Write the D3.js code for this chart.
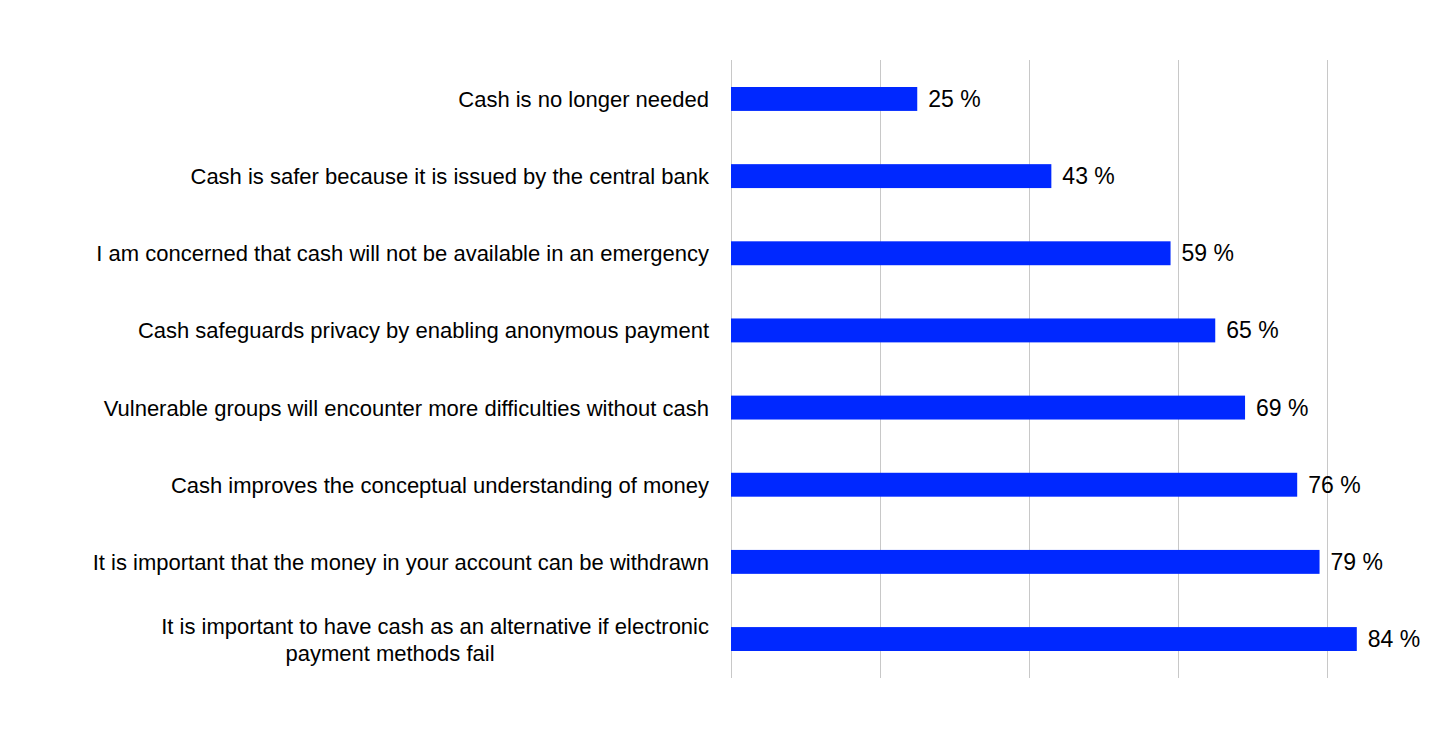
<!DOCTYPE html>
<html><head><meta charset="utf-8">
<script src="https://cdn.jsdelivr.net/npm/d3@7"></script>
<style>body{margin:0;background:#fff}svg text{font-family:"Liberation Sans",Arial,sans-serif}</style>
</head><body><svg id="c" width="1445" height="737"></svg>
<script>
// statements, top to bottom
var categories = [
  ["Cash is no longer needed"],
  ["Cash is safer because it is issued by the central bank"],
  ["I am concerned that cash will not be available in an emergency"],
  ["Cash safeguards privacy by enabling anonymous payment"],
  ["Vulnerable groups will encounter more difficulties without cash"],
  ["Cash improves the conceptual understanding of money"],
  ["It is important that the money in your account can be withdrawn"],
  ["It is important to have cash as an alternative if electronic", "payment methods fail"]
];
var values = [25, 43, 59, 65, 69, 76, 79, 84];
var ticks = [0, 20, 40, 60, 80];

var svg = d3.select("#c");
var x = d3.scaleLinear().domain([0, 100]).range([731, 1476]);
var y = d3.scaleBand().domain(d3.range(values.length)).range([60, 678]).paddingInner(0.69).paddingOuter(0.35);

svg.selectAll(".grid").data(ticks).enter().append("line")
  .attr("x1", function(d) { return x(d) + 0.5; }).attr("x2", function(d) { return x(d) + 0.5; })
  .attr("y1", 60).attr("y2", 678)
  .attr("stroke", "#c8c8c8").attr("stroke-width", 1);

svg.selectAll(".bar").data(values).enter().append("rect")
  .attr("x", x(0)).attr("y", function(d, i) { return y(i); })
  .attr("width", function(d) { return x(d) - x(0); })
  .attr("height", y.bandwidth())
  .attr("fill", "#0028ff");

svg.selectAll(".val").data(values).enter().append("text")
  .attr("x", function(d) { return x(d) + 11; })
  .attr("y", function(d, i) { return y(i) + y.bandwidth() / 2 + 8; })
  .attr("font-size", 23).attr("fill", "#000")
  .text(function(d) { return d + " %"; });

var lab = svg.selectAll(".lab").data(categories).enter().append("text")
  .attr("text-anchor", "end").attr("font-size", 22).attr("fill", "#000")
  .attr("y", function(d, i) { return y(i) + y.bandwidth() / 2 + 8 - (d.length - 1) * 13; });
lab.each(function(d) {
  var t = d3.select(this);
  d.forEach(function(line, k) {
    t.append("tspan").attr("x", k === 0 ? 709 : 390).attr("text-anchor", k === 0 ? "end" : "middle")
      .attr("dy", k === 0 ? 0 : 27).text(line);
  });
});
</script></body></html>
